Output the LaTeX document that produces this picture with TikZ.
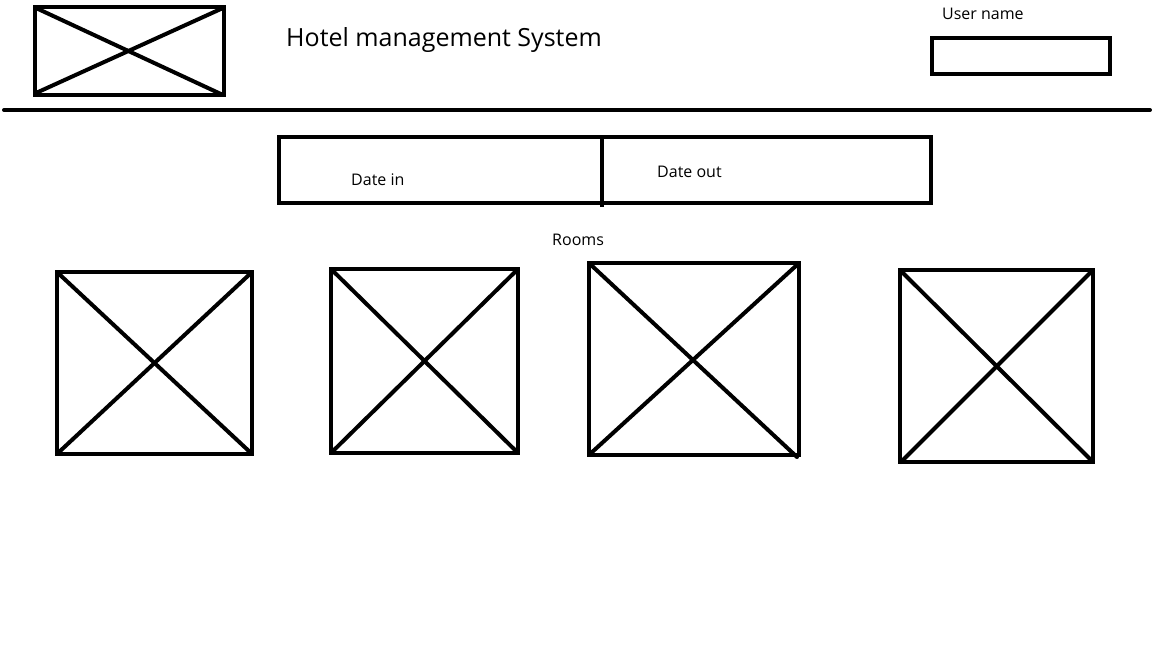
\documentclass[tikz,border=0pt]{standalone}
\usepackage{fontspec}
\setmainfont{Open Sans}
\begin{document}
\begin{tikzpicture}[x=1pt,y=-1pt,
  ink/.style={line width=4pt,line join=miter,line cap=butt},
  diag/.style={line width=4pt,line cap=round},
  lbl/.style={inner sep=0pt,anchor=west,font=\fontsize{16}{18}\selectfont},
  ttl/.style={inner sep=0pt,anchor=west,font=\fontsize{25}{28}\selectfont}]
\useasboundingbox[fill=white] (0,0) rectangle (1152,648);
% logo
\draw[ink] (35,7) rectangle (224,95);
\draw[diag] (36,8) -- (223,95);
\draw[diag] (36,93) -- (223,8);
% title
\node[ttl] (title) at (286,40) {Hotel management System};
% user name
\node[lbl] (uname) at (942,14) {User name};
\draw[ink] (932,38) rectangle (1110,74);
% header rule
\draw[ink,line cap=round] (4,110) -- (1150,110);
% date box
\draw[ink] (279,137) rectangle (931,203);
\draw[ink] (602,137) -- (602,207);
\node[lbl] (datein) at (351,180) {Date in};
\node[lbl] (dateout) at (657,172) {Date out};
% rooms
\node[lbl] (rooms) at (552,240) {Rooms};
\draw[ink] (57,272) rectangle (252,454);
\draw[diag] (58,273) -- (251,453);
\draw[diag] (58,453) -- (251,273);
\draw[ink] (331,269) rectangle (518,453);
\draw[diag] (332,270) -- (517,452);
\draw[diag] (332,452) -- (517,270);
\draw[ink] (589,263) rectangle (799,455);
\draw[diag] (590,264) -- (797,457);
\draw[diag] (590,454) -- (798,264);
\draw[ink] (900,270) rectangle (1093,462);
\draw[diag] (902,272) -- (1092,461);
\draw[diag] (901,462) -- (1092,271);
\end{tikzpicture}
\end{document}
